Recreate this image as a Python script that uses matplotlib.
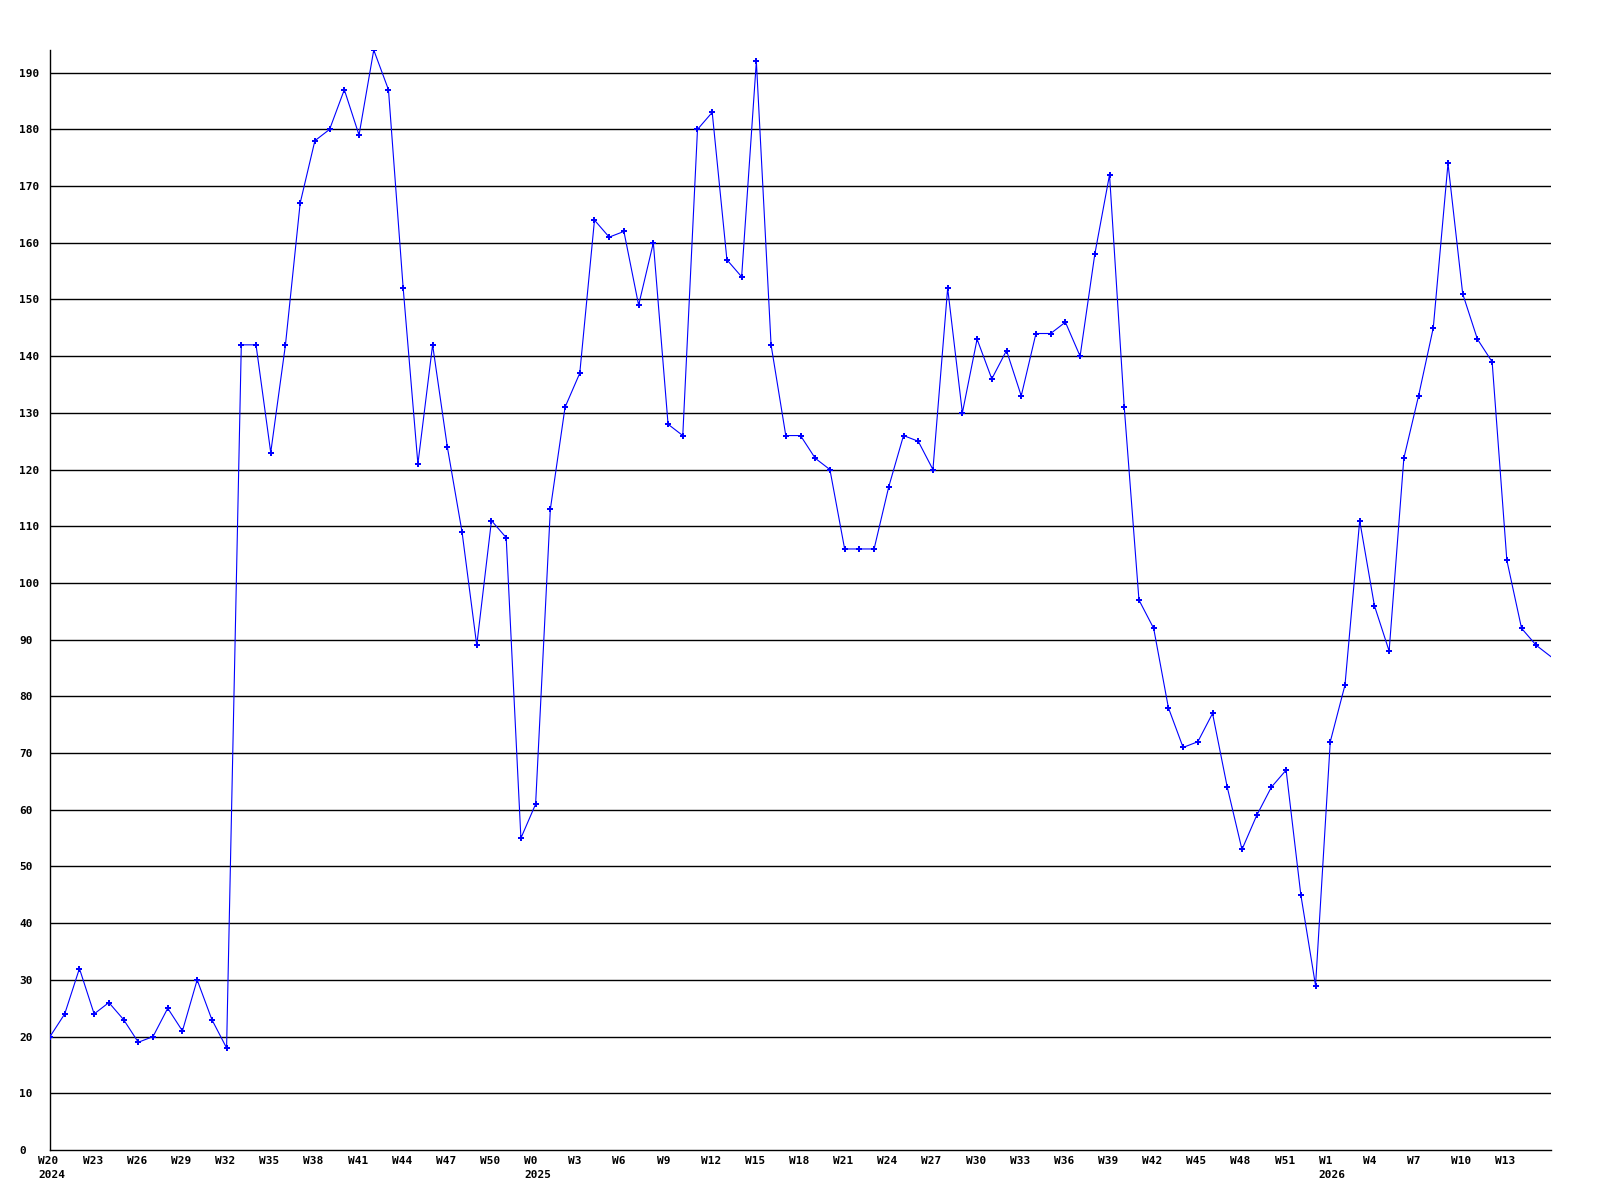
import matplotlib
matplotlib.use("Agg")
import matplotlib.pyplot as plt
import matplotlib.transforms as mtrans
import numpy as np

# valeurs hebdomadaires (W20 2024 -> W15 2026)
values = [20, 24, 32, 24, 26, 23, 19, 20, 25, 21, 30, 23, 18,
          142, 142, 123, 142, 167, 178, 180, 187, 179, 194, 187,
          152, 121, 142, 124, 109, 89, 111, 108, 55, 61, 113, 131, 137,
          164, 161, 162, 149, 160, 128, 126, 180, 183, 157, 154, 192,
          142, 126, 126, 122, 120, 106, 106, 106, 117, 126, 125, 120,
          152, 130, 143, 136, 141, 133, 144, 144, 146, 140, 158, 172,
          131, 97, 92, 78, 71, 72, 77, 64, 53, 59, 64, 67, 45, 29,
          72, 82, 111, 96, 88, 122, 133, 145, 174, 151, 143, 139,
          104, 92, 89, 87]

week_labels = ["W20\n2024", "W23", "W26", "W29", "W32", "W35", "W38", "W41",
               "W44", "W47", "W50", "W0\n2025", "W3", "W6", "W9", "W12",
               "W15", "W18", "W21", "W24", "W27", "W30", "W33", "W36", "W39",
               "W42", "W45", "W48", "W51", "W1\n2026", "W4", "W7", "W10", "W13"]
y_ticks = list(range(0, 200, 10))

x = np.arange(len(values))

fig = plt.figure(figsize=(16, 12), dpi=100)
ax = fig.add_axes([50 / 1600, 50 / 1200, 1501 / 1600, 1100 / 1200])

font = {"family": "DejaVu Sans Mono", "weight": "bold", "size": 8}

# lignes horizontales tous les 10
for yv in y_ticks[1:]:
    ax.axhline(yv, color="black", lw=1.0, zorder=1)

ax.plot(x, values, color="#0000ff", lw=0.8, marker="P", markersize=4.5,
        markeredgewidth=0, markevery=list(range(len(values) - 1)), zorder=3)

ax.set_xlim(0, len(values) - 1)
ax.set_ylim(0, max(values))

for s in ["top", "right"]:
    ax.spines[s].set_visible(False)
ax.spines["left"].set_linewidth(1.0)
ax.spines["bottom"].set_linewidth(1.0)

ax.set_yticks(y_ticks)
ax.set_yticklabels([str(v) for v in y_ticks], fontdict=font)
ax.tick_params(axis="y", length=0, pad=22.3)
for lab in ax.get_yticklabels():
    lab.set_horizontalalignment("left")

ax.set_xticks(np.arange(0, 3 * len(week_labels), 3))
ax.set_xticklabels(week_labels, fontdict=font, linespacing=1.5)
ax.tick_params(axis="x", length=0, pad=4.5)
offset = mtrans.ScaledTranslation(-11.5 / 100, 0, fig.dpi_scale_trans)
for lab in ax.get_xticklabels():
    lab.set_horizontalalignment("left")
    lab.set_multialignment("left")
    lab.set_transform(lab.get_transform() + offset)

fig.savefig("out.png", dpi=100)
